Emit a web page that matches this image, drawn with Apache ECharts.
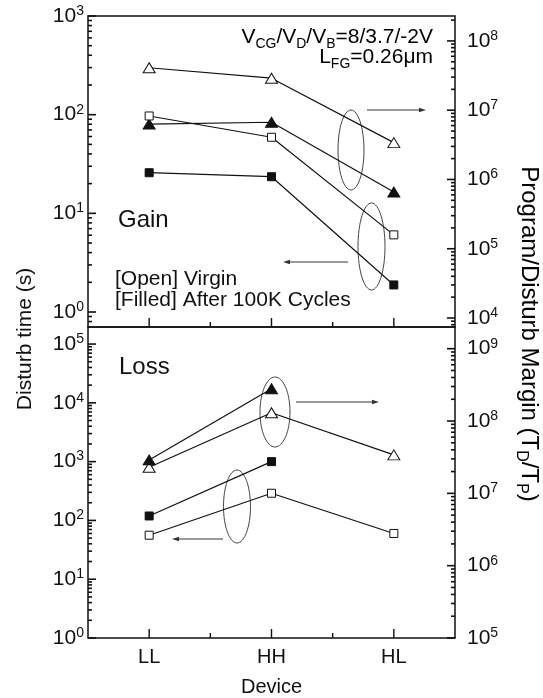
<!DOCTYPE html>
<html>
<head>
<meta charset="utf-8">
<script src="https://cdn.jsdelivr.net/npm/echarts@6/dist/echarts.min.js"></script>
<style>
  html, body { margin: 0; padding: 0; background: #fff; }
  #chart { width: 543px; height: 698px; }
</style>
</head>
<body>
<div id="chart"></div>
<script>
const devices = ['LL', 'HH', 'HL'];

// Gain panel (top)
const gainVirginTime = [97, 59, 6.05];
const gainCycledTime = [25.8, 23.5, 1.88];
const gainVirginMargin = [4.1e7, 2.9e7, 3.4e6];
const gainCycledMargin = [6.3e6, 6.7e6, 6.6e5];

// Loss panel (bottom)
const lossVirginTime = [56, 290, 60];
const lossCycledTime = [119, 1000, null];
const lossVirginMargin = [2.3e7, 1.3e8, 3.4e7];
const lossCycledMargin = [2.9e7, 2.8e8, null];

// decade exponents shown as tick labels
const gainTimeDecades = [0, 1, 2, 3];
const gainMarginDecades = [4, 5, 6, 7, 8];
const lossTimeDecades = [0, 1, 2, 3, 4, 5];
const lossMarginDecades = [5, 6, 7, 8, 9];

// axis ranges, in decades
const gainTimeRange = [-0.152, 3];
const gainMarginRange = [3.87, 8.36];
const lossTimeRange = [0, 5.29];
const lossMarginRange = [5, 9.30];

const FONT = 'Liberation Sans, Arial, sans-serif';
const INK = '#111';
const X_MIN = -0.5;
const X_MAX = 2.5;

function minorTicks(range) {
  const out = [];
  for (let n = Math.floor(range[0]); n <= Math.ceil(range[1]); n++) {
    for (let k = 2; k <= 9; k++) {
      const v = n + Math.log10(k);
      if (v > range[0] && v < range[1]) out.push(Math.pow(10, v));
    }
  }
  return out;
}

const powRich = {
  b: { fontSize: 21, lineHeight: 24, fontFamily: FONT, color: INK },
  s: { fontSize: 14, lineHeight: 14, fontFamily: FONT, color: INK, verticalAlign: 'top' }
};

function logAxis(grid, side, range) {
  return {
    gridIndex: grid, type: 'log', position: side, show: false,
    axisLine: { onZero: false },
    min: Math.pow(10, range[0]), max: Math.pow(10, range[1])
  };
}

// label-only axis in decade units
function labelAxis(grid, side, range, decades) {
  return {
    gridIndex: grid, type: 'value', position: side,
    min: range[0], max: range[1],
    axisLine: { show: false, onZero: false }, splitLine: { show: false }, axisTick: { show: false },
    axisLabel: {
      customValues: decades, margin: side === 'left' ? 4 : 12,
      formatter: (v) => '{b|10}{s|' + v + '}', rich: powRich
    }
  };
}

function xAxis(grid, withLabels) {
  return {
    gridIndex: grid, type: 'value', min: X_MIN, max: X_MAX, position: 'bottom',
    axisLine: { show: false, onZero: false }, splitLine: { show: false }, axisTick: { show: false },
    axisLabel: {
      show: withLabels, customValues: [0, 1, 2], margin: 9,
      formatter: (v) => devices[v], fontSize: 20, fontFamily: FONT, color: INK
    }
  };
}

function pts(values) {
  return values.map((v, i) => [i, v]).filter((p) => p[1] != null);
}

function series(xIdx, yIdx, values, shape, filled) {
  const tri = shape === 'triangle';
  return {
    type: 'line', xAxisIndex: xIdx, yAxisIndex: yIdx, data: pts(values),
    symbol: shape, symbolSize: tri ? [12, 10] : 8,
    showAllSymbol: true,
    lineStyle: { color: INK, width: 1.2 },
    itemStyle: { color: filled ? INK : '#fff', borderColor: INK, borderWidth: 1 },
    emphasis: { disabled: true }, z: 3
  };
}

// tick marks as thin rect symbols placed on the axes
function yTicks(xIdx, yIdx, values, side, len) {
  const dir = side === 'left' ? 1 : -1;
  return {
    type: 'scatter', xAxisIndex: xIdx, yAxisIndex: yIdx, silent: true, clip: false, z: 6,
    data: values.map((v) => [side === 'left' ? X_MIN : X_MAX, v]),
    symbol: 'rect', symbolSize: [len, 1.6], symbolOffset: [dir * len / 2, 0],
    itemStyle: { color: INK, opacity: 1 }, emphasis: { disabled: true }
  };
}

function xTicks(xIdx, yIdx, values, yMin, len) {
  return {
    type: 'scatter', xAxisIndex: xIdx, yAxisIndex: yIdx, silent: true, clip: false, z: 6,
    data: values.map((v) => [v, yMin]),
    symbol: 'rect', symbolSize: [1.4, len], symbolOffset: [0, -len / 2],
    itemStyle: { color: INK, opacity: 1 }, emphasis: { disabled: true }
  };
}

function arrow(x1, x2, y) {
  const dir = x2 > x1 ? 1 : -1;
  return [
    { type: 'line', shape: { x1: x1, y1: y, x2: x2 - dir * 5, y2: y }, style: { stroke: '#333', lineWidth: 1 } },
    { type: 'polygon', shape: { points: [[x2, y], [x2 - dir * 7, y - 2.2], [x2 - dir * 7, y + 2.2]] }, style: { fill: '#333' } }
  ];
}

function ellipse(cx, cy, rx, ry) {
  return { type: 'ellipse', shape: { cx: cx, cy: cy, rx: rx, ry: ry }, style: { fill: 'none', stroke: '#444', lineWidth: 1 } };
}

function label(text, x, y, size, align) {
  return {
    type: 'text', x: x, y: y,
    style: { text: text, font: size + 'px ' + FONT, fill: INK, textAlign: align || 'left', textVerticalAlign: 'middle' }
  };
}

function subRich(main, sub) {
  return {
    n: { fontSize: main, lineHeight: main + 7, fontFamily: FONT, color: INK },
    d: { fontSize: sub, lineHeight: sub, fontFamily: FONT, color: INK, verticalAlign: 'bottom' }
  };
}

const decadeValues = (decades) => decades.map((n) => Math.pow(10, n));

const myChart = echarts.init(document.getElementById('chart'), null, { renderer: 'canvas' });

myChart.setOption({
  animation: false,
  backgroundColor: '#fff',
  grid: [
    { left: 88, width: 367, top: 16, height: 311, show: true, borderColor: INK, borderWidth: 1.5 },
    { left: 88, width: 367, top: 327, height: 311, show: true, borderColor: INK, borderWidth: 1.5 }
  ],
  xAxis: [xAxis(0, false), xAxis(1, true)],
  yAxis: [
    logAxis(0, 'left', gainTimeRange),                          // 0
    logAxis(0, 'right', gainMarginRange),                       // 1
    labelAxis(0, 'left', gainTimeRange, gainTimeDecades),       // 2
    labelAxis(0, 'right', gainMarginRange, gainMarginDecades),  // 3
    logAxis(1, 'left', lossTimeRange),                          // 4
    logAxis(1, 'right', lossMarginRange),                       // 5
    labelAxis(1, 'left', lossTimeRange, lossTimeDecades),       // 6
    labelAxis(1, 'right', lossMarginRange, lossMarginDecades)   // 7
  ],
  series: [
    series(0, 1, gainVirginMargin, 'triangle', false),
    series(0, 1, gainCycledMargin, 'triangle', true),
    series(0, 0, gainVirginTime, 'rect', false),
    series(0, 0, gainCycledTime, 'rect', true),
    series(1, 5, lossVirginMargin, 'triangle', false),
    series(1, 5, lossCycledMargin, 'triangle', true),
    series(1, 4, lossVirginTime, 'rect', false),
    series(1, 4, lossCycledTime, 'rect', true),

    yTicks(0, 0, decadeValues(gainTimeDecades), 'left', 8),
    yTicks(0, 0, minorTicks(gainTimeRange), 'left', 4),
    yTicks(0, 1, decadeValues(gainMarginDecades), 'right', 8),
    yTicks(0, 1, minorTicks(gainMarginRange), 'right', 4),
    yTicks(1, 4, decadeValues(lossTimeDecades), 'left', 8),
    yTicks(1, 4, minorTicks(lossTimeRange), 'left', 4),
    yTicks(1, 5, decadeValues(lossMarginDecades), 'right', 8),
    yTicks(1, 5, minorTicks(lossMarginRange), 'right', 4),
    xTicks(0, 0, [0, 1, 2], Math.pow(10, gainTimeRange[0]), 9),
    xTicks(0, 0, [0.5, 1.5], Math.pow(10, gainTimeRange[0]), 5),
    xTicks(1, 4, [0, 1, 2], Math.pow(10, lossTimeRange[0]), 9),
    xTicks(1, 4, [0.5, 1.5], Math.pow(10, lossTimeRange[0]), 5)
  ],
  graphic: [].concat(
    [
      ellipse(351, 150, 13, 40),
      ellipse(371.5, 246.5, 13.5, 43.5),
      ellipse(275, 412, 15, 35),
      ellipse(237, 506.5, 13.5, 36.5)
    ],
    arrow(367, 426, 110),
    arrow(348, 283, 262),
    arrow(296, 379, 402),
    arrow(223, 172, 539),
    [
      label('Gain', 118, 220, 24),
      label('Loss', 119, 367, 24),
      label('[Open] Virgin', 115, 279, 21),
      label('[Filled] After 100K Cycles', 115, 300, 21),
      label('Device', 271.5, 687, 20, 'center'),
      {
        type: 'text', x: 433, y: 37,
        style: { text: '{n|V}{d|CG}{n|/V}{d|D}{n|/V}{d|B}{n|=8/3.7/-2V}', rich: subRich(21, 14), textAlign: 'right', textVerticalAlign: 'middle' }
      },
      {
        type: 'text', x: 433, y: 57,
        style: { text: '{n|L}{d|FG}{n|=0.26\u03bcm}', rich: subRich(21, 14), textAlign: 'right', textVerticalAlign: 'middle' }
      },
      {
        type: 'text', x: 25, y: 339, rotation: Math.PI / 2,
        style: { text: 'Disturb time (s)', font: '21px ' + FONT, fill: INK, textAlign: 'center', textVerticalAlign: 'middle' }
      },
      {
        type: 'text', x: 529, y: 334, rotation: -Math.PI / 2,
        style: { text: '{n|Program/Disturb Margin (T}{d|D}{n|/T}{d|P}{n|)}', rich: subRich(24, 16), textAlign: 'center', textVerticalAlign: 'middle' }
      }
    ]
  )
});
</script>
</body>
</html>
